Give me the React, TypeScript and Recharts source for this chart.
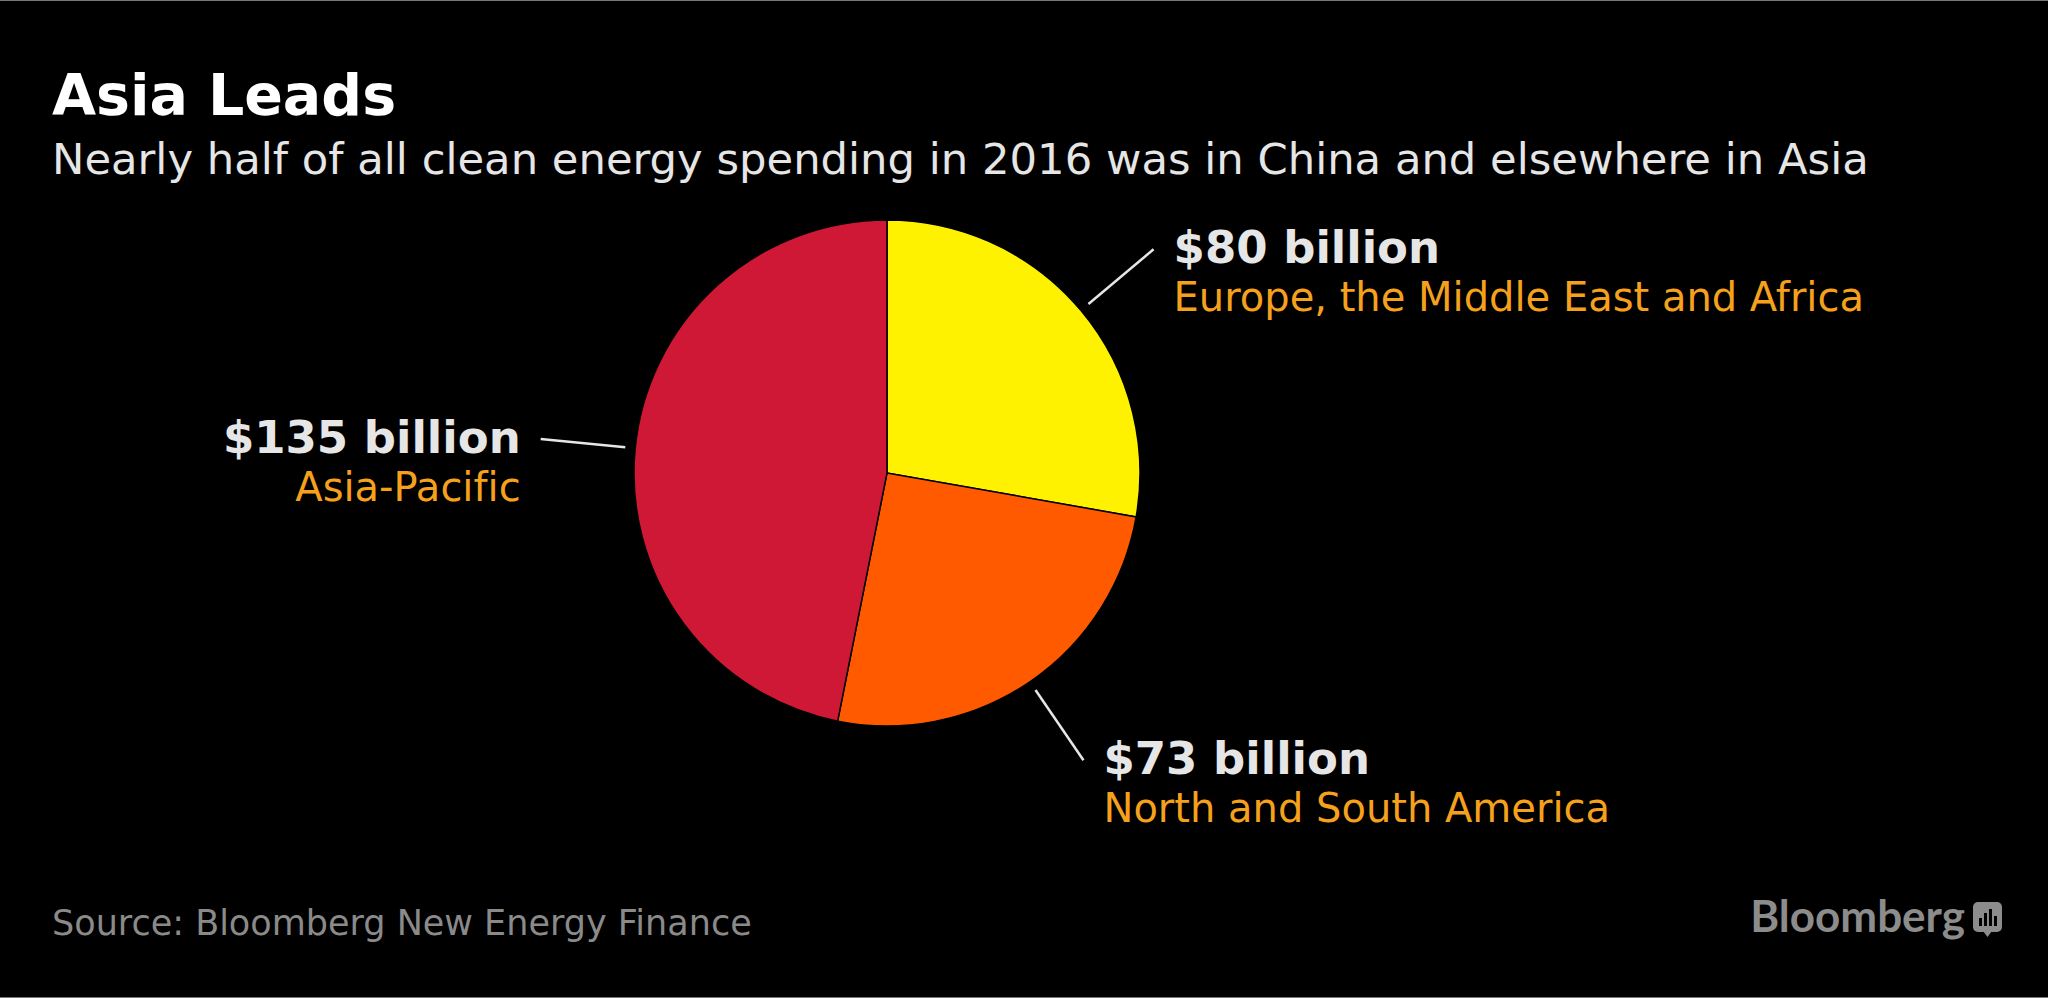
import { PieChart, Pie, Cell } from 'recharts'

const REGIONS = ['Europe, the Middle East and Africa', 'North and South America', 'Asia-Pacific']
const SPENDING = [80, 73, 135] // $ billion, 2016
const VALUE_LABELS = ['$80 billion', '$73 billion', '$135 billion']
const COLORS = ['#FFF200', '#FF5A00', '#CE1836']

const TITLE = 'Asia Leads'
const SUBTITLE = 'Nearly half of all clean energy spending in 2016 was in China and elsewhere in Asia'
const SOURCE = 'Source: Bloomberg New Energy Finance'

const W = 2048
const H = 998
const FONT = '"DejaVu Sans", Verdana, sans-serif'
const RADIAN = Math.PI / 180

const data = REGIONS.map((name, i) => ({ name, value: SPENDING[i], label: VALUE_LABELS[i] }))

// leader line + two-line label, placed off the slice's mid angle
function renderLabel(props: any) {
  const { cx, cy, midAngle, outerRadius, index } = props
  const cos = Math.cos(-midAngle * RADIAN)
  const sin = Math.sin(-midAngle * RADIAN)
  const x1 = cx + (outerRadius + 10) * cos
  const y1 = cy + (outerRadius + 10) * sin
  const x2 = cx + (outerRadius + 95) * cos
  const y2 = cy + (outerRadius + 95) * sin
  const right = cos >= 0
  const tx = right ? x2 + 20 : x2 - 20
  const d = data[index]
  return (
    <g key={`lbl-${index}`}>
      <line x1={x1} y1={y1} x2={x2} y2={y2} stroke="#e6e6e6" strokeWidth={2.5} />
      <text x={tx} y={y2 + 14} textAnchor={right ? 'start' : 'end'} fill="#e6e6e6"
        style={{ fontFamily: FONT, fontWeight: 700, fontSize: 45, fontVariantLigatures: 'none' }}>
        {d.label}
      </text>
      <text x={tx} y={y2 + 62} textAnchor={right ? 'start' : 'end'} fill="#F5A11C"
        style={{ fontFamily: FONT, fontSize: 40, fontVariantLigatures: 'none' }}>
        {d.name}
      </text>
    </g>
  )
}

export default function App() {
  return (
    <div style={{ position: 'absolute', left: 0, top: 0, width: W, height: H, background: '#000', overflow: 'hidden' }}>
      <div style={{ position: 'absolute', left: 0, top: 0, right: 0, height: 1, background: '#777' }} />
      <div style={{ position: 'absolute', left: 0, bottom: 0, right: 0, height: 1, background: '#777' }} />
      <div style={{ position: 'absolute', left: 0, top: 0 }}>
        <PieChart width={W} height={H} margin={{ top: 0, right: 0, bottom: 0, left: 0 }}>
          <Pie
            data={data}
            dataKey="value"
            nameKey="name"
            cx={887}
            cy={473}
            outerRadius={253}
            startAngle={90}
            endAngle={-270}
            stroke="#000"
            strokeWidth={1.5}
            label={renderLabel}
            labelLine={false}
            isAnimationActive={false}
          >
            {data.map((d, i) => (
              <Cell key={d.name} fill={COLORS[i]} />
            ))}
          </Pie>
        </PieChart>
      </div>
      <svg width={W} height={H} style={{ position: 'absolute', left: 0, top: 0, pointerEvents: 'none', fontVariantLigatures: 'none' }}>
        <text x={52} y={115} fill="#fff" style={{ fontFamily: FONT, fontWeight: 700, fontSize: 57 }}>{TITLE}</text>
        <text x={52} y={174} fill="#e6e6e6" style={{ fontFamily: FONT, fontSize: 43.3 }}>{SUBTITLE}</text>
        <text x={52} y={935} fill="#8a8a8a" style={{ fontFamily: FONT, fontSize: 35 }}>{SOURCE}</text>
        <text x={1965} y={932} textAnchor="end" fill="#8c8c8c" style={{ fontFamily: 'Lato, sans-serif', fontWeight: 700, fontSize: 44 }}>Bloomberg</text>
        <g fill="#8c8c8c">
          <rect x={1973} y={902} width={29} height={30} rx={5} />
          <path d="M1983 931 L1987.5 937 L1992 931 Z" />
        </g>
        <g fill="#000">
          <rect x={1979} y={918} width={3} height={8} />
          <rect x={1984} y={913} width={3} height={13} />
          <rect x={1989} y={909} width={3} height={17} />
          <rect x={1994} y={916} width={3} height={10} />
        </g>
      </svg>
    </div>
  )
}
